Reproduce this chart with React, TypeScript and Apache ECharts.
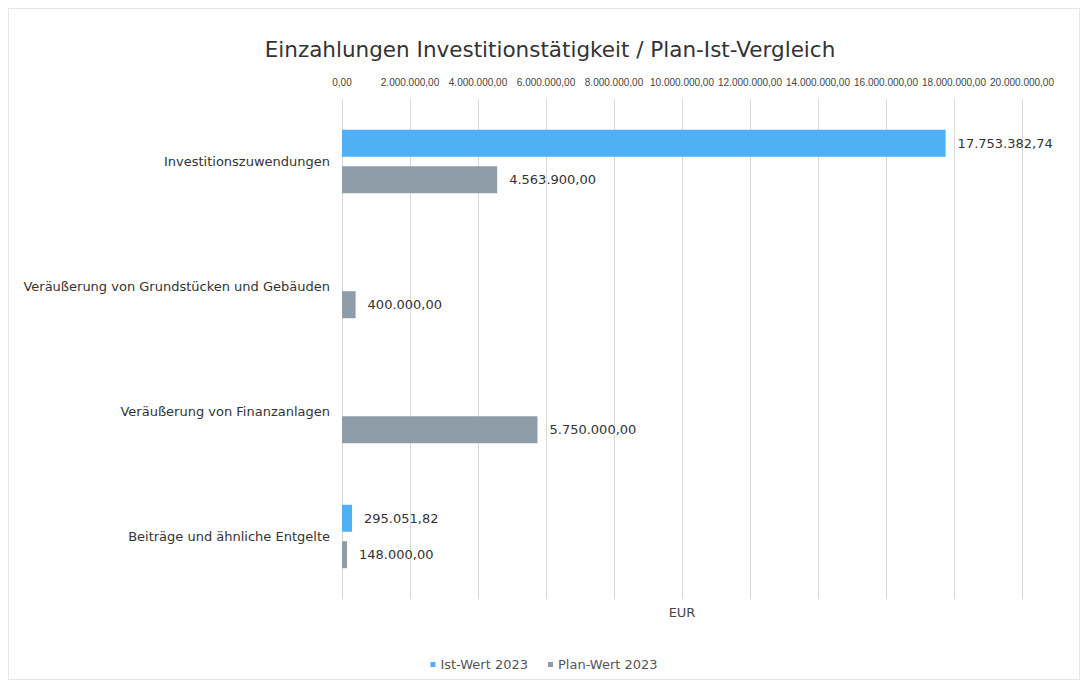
import React, { useEffect, useRef } from "react";
import * as echarts from "echarts";

const categories = [
  "Investitionszuwendungen",
  "Veräußerung von Grundstücken und Gebäuden",
  "Veräußerung von Finanzanlagen",
  "Beiträge und ähnliche Entgelte",
];
const istWerte: (number | null)[] = [17753382.74, null, null, 295051.82];
const planWerte: (number | null)[] = [4563900, 400000, 5750000, 148000];
const seriesNames = ["Ist-Wert 2023", "Plan-Wert 2023"];
const axisMin = 0;
const axisMax = 20000000;
const axisStep = 2000000;

const fmt = (v: number) =>
  v.toLocaleString("de-DE", { minimumFractionDigits: 2, maximumFractionDigits: 2 });

export default function App() {
  const ref = useRef<HTMLDivElement>(null);
  useEffect(() => {
    if (!ref.current) return;
    const chart = echarts.init(ref.current, undefined, { renderer: "svg" });
    const font = "'DejaVu Sans', 'Liberation Sans', Arial, sans-serif";
    const tickFont = "'Liberation Sans', Arial, sans-serif";
    const valueLabel = {
      show: true,
      position: "right",
      distance: 12,
      formatter: (p: any) => fmt(p.value),
      fontSize: 13,
      color: "#333",
      fontFamily: font,
    };
    chart.setOption({
      animation: false,
      textStyle: { fontFamily: font },
      title: {
        text: "Einzahlungen Investitionstätigkeit / Plan-Ist-Vergleich",
        left: 536,
        textAlign: "center",
        top: 24,
        textStyle: { fontSize: 21.5, fontWeight: "normal", color: "#333", fontFamily: font },
      },
      legend: {
        top: 644,
        left: "center",
        icon: "rect",
        itemWidth: 5,
        itemHeight: 5,
        itemGap: 20,
        textStyle: { fontSize: 13, color: "#555", fontFamily: font },
        data: seriesNames,
      },
      grid: { left: 333, right: 57, top: 90, bottom: 80, containLabel: false },
      xAxis: {
        type: "value",
        position: "top",
        min: axisMin,
        max: axisMax,
        interval: axisStep,
        name: "EUR",
        nameLocation: "middle",
        nameGap: -520,
        nameTextStyle: { fontSize: 13, color: "#444", fontFamily: font },
        axisLine: { show: false },
        axisTick: { show: false },
        axisLabel: {
          formatter: (v: number) => fmt(v),
          fontSize: 10,
          color: "#444",
          margin: 12,
          showMinLabel: true,
          showMaxLabel: true,
          hideOverlap: false,
          fontFamily: tickFont,
        },
        splitLine: { show: true, lineStyle: { color: "#d9d9d9" } },
      },
      yAxis: {
        type: "category",
        inverse: true,
        data: categories,
        axisLine: { show: false },
        axisTick: { show: false },
        axisLabel: { fontSize: 13, color: "#333", margin: 12, fontFamily: font },
      },
      series: [
        {
          name: seriesNames[0],
          type: "bar",
          data: istWerte,
          barWidth: 27,
          barGap: "35%",
          itemStyle: { color: "#4fb0f6" },
          label: valueLabel,
        },
        {
          name: seriesNames[1],
          type: "bar",
          data: planWerte,
          barWidth: 27,
          barGap: "35%",
          itemStyle: { color: "#8e9da7" },
          label: valueLabel,
        },
      ],
    });
    return () => chart.dispose();
  }, []);
  return (
    <div
      style={{
        width: 1072,
        height: 672,
        border: "1px solid #e6e6e6",
        boxSizing: "border-box",
        background: "#fff",
      }}
    >
      <div ref={ref} style={{ width: 1070, height: 670 }} />
    </div>
  );
}
